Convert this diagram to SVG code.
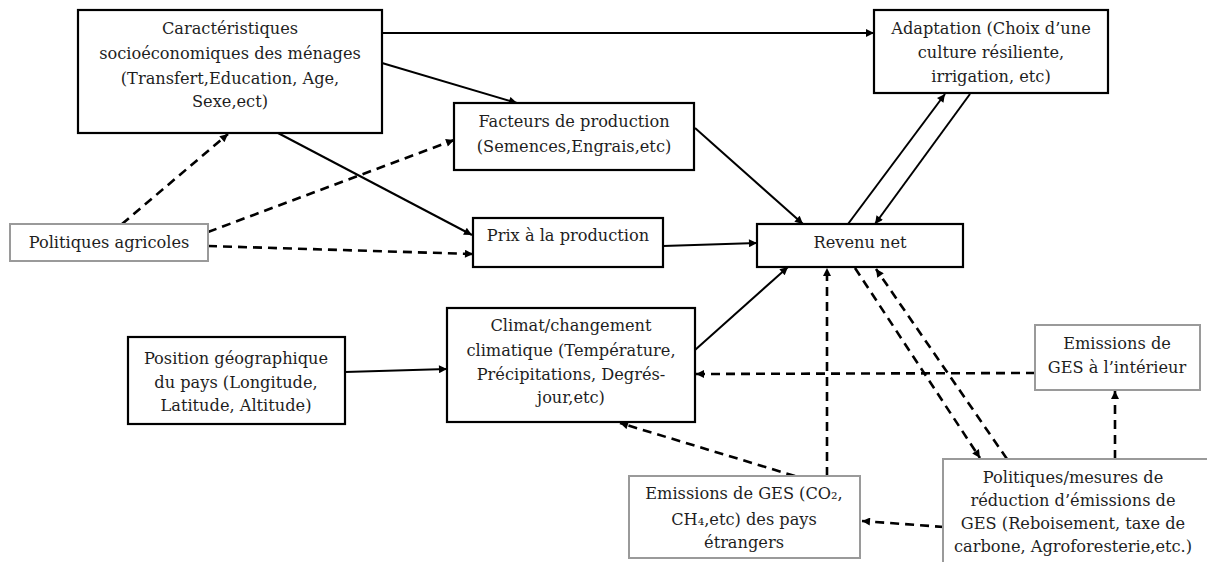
<svg xmlns="http://www.w3.org/2000/svg" width="1207" height="562" viewBox="0 0 1207 562">
<defs>
<marker id="ah" viewBox="0 0 10 10" refX="10" refY="5" markerWidth="9" markerHeight="8" markerUnits="userSpaceOnUse" orient="auto">
<path d="M0,0 L10,5 L0,10 z" fill="#000"/>
</marker>
<style>
.bx{fill:#fff;stroke:#000;stroke-width:2.2}
.gb{fill:#fff;stroke:#9a9a9a;stroke-width:2}
text{font-family:"DejaVu Serif","Liberation Serif",serif;font-size:16.2px;fill:#1e1e1e;text-anchor:middle}
.s{fill:none;stroke:#000;stroke-width:2;marker-end:url(#ah)}
.d{fill:none;stroke:#000;stroke-width:2.6;stroke-dasharray:9 6;marker-end:url(#ah)}
</style>
</defs>
<rect width="1207" height="562" fill="#fff"/>
<g id="connectors">
<path class="s" d="M382,33 L874,33"/>
<path class="s" d="M382,63 L517,103"/>
<path class="s" d="M278,133 L472,235"/>
<path class="s" d="M695,128 L803,224"/>
<path class="s" d="M663,246 L757,243"/>
<path class="s" d="M695,350 L788,267"/>
<path class="s" d="M848,224 L945,94"/>
<path class="s" d="M970,94 L875,224"/>
<path class="s" d="M345,372 L447,369"/>
<path class="d" d="M122,224 L228,134"/>
<path class="d" d="M208,232 L454,140"/>
<path class="d" d="M208,246 L473,254"/>
<path class="d" d="M827,476 L827,268"/>
<path class="d" d="M795,476 L620,423"/>
<path class="d" d="M855,268 L980,458"/>
<path class="d" d="M1007,459 L876,269"/>
<path class="d" d="M1115,459 L1115,391"/>
<path class="d" d="M1035,373 L696,374"/>
<path class="d" d="M944,527 L862,521"/>
</g>
<g id="n-socio">
<rect class="bx" x="78" y="10" width="304" height="123"/>
<text x="230" y="34">Caractéristiques</text>
<text x="230" y="59">socioéconomiques des ménages</text>
<text x="230" y="84">(Transfert,Education, Age,</text>
<text x="230" y="107">Sexe,ect)</text>
</g>
<g id="n-adaptation">
<rect class="bx" x="874" y="10" width="234" height="83"/>
<text x="991" y="34">Adaptation (Choix d’une</text>
<text x="991" y="58">culture résiliente,</text>
<text x="991" y="82">irrigation, etc)</text>
</g>
<g id="n-facteurs">
<rect class="bx" x="454" y="103" width="240" height="67"/>
<text x="574" y="127">Facteurs de production</text>
<text x="574" y="152">(Semences,Engrais,etc)</text>
</g>
<g id="n-prix">
<rect class="bx" x="473" y="218" width="190" height="49"/>
<text x="568" y="241">Prix à la production</text>
</g>
<g id="n-politiques-agricoles">
<rect class="gb" x="10" y="224" width="198" height="37"/>
<text x="109" y="248">Politiques agricoles</text>
</g>
<g id="n-revenu">
<rect class="bx" x="757" y="224" width="206" height="43"/>
<text x="860" y="248">Revenu net</text>
</g>
<g id="n-position">
<rect class="bx" x="128" y="337" width="217" height="87"/>
<text x="236" y="364">Position géographique</text>
<text x="236" y="388">du pays (Longitude,</text>
<text x="236" y="411">Latitude, Altitude)</text>
</g>
<g id="n-climat">
<rect class="bx" x="447" y="308" width="248" height="114"/>
<text x="571" y="331">Climat/changement</text>
<text x="571" y="356">climatique (Température,</text>
<text x="571" y="380">Précipitations, Degrés-</text>
<text x="571" y="403">jour,etc)</text>
</g>
<g id="n-emissions-interieur">
<rect class="gb" x="1035" y="325" width="165" height="65"/>
<text x="1117" y="349">Emissions de</text>
<text x="1117" y="373">GES à l’intérieur</text>
</g>
<g id="n-emissions-etrangers">
<rect class="gb" x="629" y="476" width="231" height="82"/>
<text x="744" y="499">Emissions de GES (CO₂,</text>
<text x="744" y="525">CH₄,etc) des pays</text>
<text x="744" y="548">étrangers</text>
</g>
<g id="n-politiques-ges">
<rect class="gb" x="943" y="459" width="275" height="120"/>
<text x="1073" y="483">Politiques/mesures de</text>
<text x="1073" y="506">réduction d’émissions de</text>
<text x="1073" y="529">GES (Reboisement, taxe de</text>
<text x="1073" y="552">carbone, Agroforesterie,etc.)</text>
</g>
</svg>
